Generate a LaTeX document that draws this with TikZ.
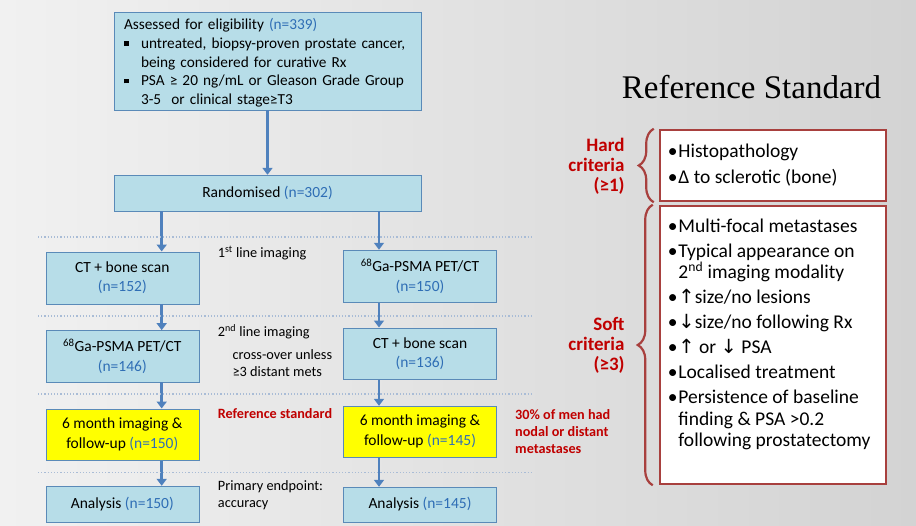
\documentclass[tikz,border=0pt]{standalone}
\usepackage{fontspec}
\setmainfont{Carlito}
\newfontfamily\titlefont{Liberation Serif}
\newfontfamily\symfont{DejaVu Sans}
\usetikzlibrary{positioning,arrows.meta,calc,decorations.pathreplacing}
\definecolor{boxFill}{HTML}{B7DDE8}
\definecolor{boxLine}{HTML}{5A8AB8}
\definecolor{flowArrow}{HTML}{4F81BD}
\definecolor{countBlue}{HTML}{2F6EB5}
\definecolor{refRed}{HTML}{C00000}
\definecolor{critLine}{HTML}{A8403E}
\definecolor{stageDots}{HTML}{A9BCD6}
\definecolor{markYellow}{HTML}{FFFF00}
\definecolor{bgLight}{HTML}{F1F1F1}
\definecolor{bgDark}{HTML}{D3D3D3}
\newcommand{\nval}[1]{\textcolor{countBlue}{#1}}
\newcommand{\sqbul}{\makebox[17pt][l]{\rule[2.5pt]{4.5pt}{4.5pt}}}
\newcommand{\rbul}{\makebox[10.5pt][l]{\textbullet}}
\newcommand{\up}{{\symfont\char"2191}}
\newcommand{\down}{{\symfont\char"2193}}

\begin{document}
\begin{tikzpicture}[x=1pt, y=-1pt, >={Triangle[width=10pt,length=7pt]},
          stage/.style={draw=boxLine, fill=boxFill, inner sep=2pt, align=center, font=\fontsize{15.5}{19.5}\selectfont},
          lane/.style={stage, minimum width=153pt},
          flow/.style={->, flowArrow, line width=2.8pt},
          stagedots/.style={stageDots, line width=1.2pt, dotted},
          note/.style={inner sep=0pt, align=left, font=\fontsize{14.3}{17.2}\selectfont},
          redNote/.style={note, text=refRed, font=\bfseries\fontsize{14.2}{17}\selectfont},
          critBox/.style={draw=critLine, line width=2.5pt, fill=white, minimum width=226pt},
          critLabel/.style={inner sep=0pt, align=right, text=refRed, font=\bfseries\fontsize{19}{20}\selectfont},
          critBrace/.style={critLine, line width=2.2pt, decorate, decoration={brace, amplitude=15pt}},
          critText/.style={inner sep=0pt, align=left, font=\fontsize{19.5}{21.5}\selectfont}]
        \shade[left color=bgLight, right color=bgDark] (0,0) rectangle (916,525);
        \useasboundingbox (0,0) rectangle (916,525);

        % flow chart
        \node[stage, minimum width=307pt, minimum height=98pt, text width=287pt, align=left, font=\fontsize{15.3}{18.7}\selectfont] (elig) at (267.5,61)
          {\rule{0pt}{15pt}Assessed for eligibility \nval{(n=339)}\\
           \sqbul untreated, biopsy-proven prostate cancer,\\
           \hspace*{17pt}being considered for curative Rx\\
           \sqbul PSA ≥ 20 ng/mL or Gleason Grade Group\\
           \hspace*{17pt}3-5\ \ or clinical stage≥T3};
        \node[stage, minimum width=307pt, minimum height=36pt] (rand) at (267.5,193) {Randomised \nval{(n=302)}};
        \node[lane, minimum height=52pt] (ct1) at (122.3,277.7) {CT + bone scan\\ \nval{(n=152)}};
        \node[lane, minimum height=52.7pt] (ga1) at (420,276.3) {\textsuperscript{68}Ga-PSMA PET/CT\\ \nval{(n=150)}};
        \node[lane, minimum height=51.7pt] (ga2) at (122.3,356.2) {\textsuperscript{68}Ga-PSMA PET/CT\\ \nval{(n=146)}};
        \node[lane, minimum height=51.6pt] (ct2) at (420,353.5) {CT + bone scan\\ \nval{(n=136)}};
        \node[lane, minimum height=51.6pt, fill=markYellow] (fu1) at (122.3,434.5) {6 month imaging \&\\ follow-up \nval{(n=150)}};
        \node[lane, minimum height=51pt, fill=markYellow] (fu2) at (420,431.5) {6 month imaging \&\\ follow-up \nval{(n=145)}};
        \node[lane, minimum height=36pt] (an1) at (122.3,504) {Analysis \nval{(n=150)}};
        \node[lane, minimum height=35pt] (an2) at (420,504.5) {Analysis \nval{(n=145)}};

        \coordinate (laneL) at (161.7,0);
        \coordinate (laneR) at (379,0);
        \draw[flow] (elig.south) -- (rand.north);
        \draw[flow] (rand.south -| laneL) -- (ct1.north -| laneL);
        \draw[flow] (rand.south -| laneR) -- (ga1.north -| laneR);
        \draw[flow] (ct1.south -| laneL) -- (ga2.north -| laneL);
        \draw[flow] (ga1.south -| laneR) -- (ct2.north -| laneR);
        \draw[flow] (ga2.south -| laneL) -- (fu1.north -| laneL);
        \draw[flow] (ct2.south -| laneR) -- (fu2.north -| laneR);
        \draw[flow] (fu1.south -| laneL) -- (an1.north -| laneL);
        \draw[flow] (fu2.south -| laneR) -- (an2.north -| laneR);
        \foreach \y in {237,316,394,472.5}
          \draw[stagedots] (38,\y) -- (533,\y);

        \node[note, anchor=west] (line1) at (217.7,253) {1\textsuperscript{st} line imaging};
        \node[note, anchor=west] (line2) at (217.7,332) {2\textsuperscript{nd} line imaging};
        \node[note, anchor=west] (cross) at (232.3,363) {cross-over unless\\ ≥3 distant mets};
        \node[redNote, anchor=west] (refstd) at (217.7,413.7) {Reference standard};
        \node[redNote, anchor=west] (thirty) at (515,431.3) {30\% of men had\\ nodal or distant\\ metastases};
        \node[note, anchor=west] (primary) at (217.7,495) {Primary endpoint:\\ accuracy};

        % reference standard
        \node[font=\titlefont\fontsize{33}{36}\selectfont, inner sep=0pt] (title) at (751.5,87) {Reference Standard};
        \node[critBox, minimum height=71pt] (hardBox) at (773,165.5) {};
        \node[critText, anchor=west] (hardList) at ([xshift=9pt]hardBox.west)
          {\rbul Histopathology\\[4.5pt] \rbul Δ to sclerotic (bone)};
        \node[critBox, minimum height=278pt] (softBox) at (773,345) {};
        \node[critText, anchor=north west] (softList) at ([xshift=9pt, yshift=-14pt]softBox.north west)
          {\rbul Multi-focal metastases\\[3.5pt]
           \rbul Typical appearance on\\ \hspace*{10.5pt}2\textsuperscript{nd} imaging modality\\[3.5pt]
           \rbul \up size/no lesions\\[3.5pt]
           \rbul \down size/no following Rx\\[3.5pt]
           \rbul \up\ or \down\ PSA\\[3.5pt]
           \rbul Localised treatment\\[3.5pt]
           \rbul Persistence of baseline\\ \hspace*{10.5pt}finding \& PSA >0.2\\ \hspace*{10.5pt}following prostatectomy};
        \draw[critBrace] ([xshift=-5pt]hardBox.south west) -- ([xshift=-5pt]hardBox.north west);
        \draw[critBrace] ([xshift=-6pt]softBox.south west) -- ([xshift=-6pt]softBox.north west);
        \node[critLabel, anchor=east] (hardLbl) at ([xshift=-34pt, yshift=-1pt]hardBox.west) {Hard\\ criteria\\ (≥1)};
        \node[critLabel, anchor=east] (softLbl) at ([xshift=-34pt]softBox.west) {Soft\\ criteria\\ (≥3)};
\end{tikzpicture}
\end{document}
